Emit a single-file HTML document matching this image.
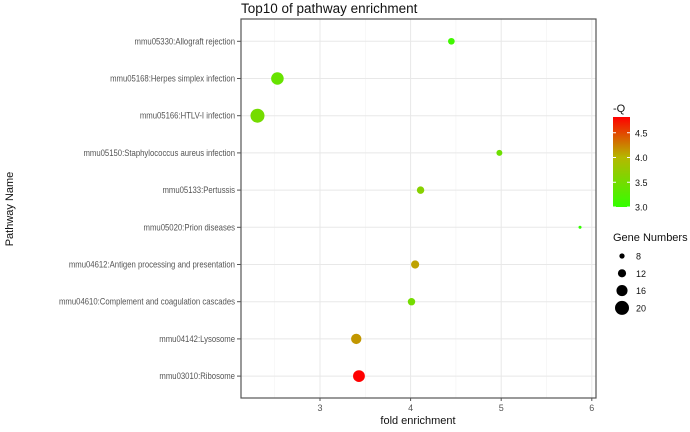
<!DOCTYPE html>
<html><head><meta charset="utf-8"><style>
body{margin:0;background:#fff;font-family:"Liberation Sans",sans-serif}
svg text{font-family:"Liberation Sans",sans-serif}
</style></head><body>
<svg id="chart" width="690" height="427" xmlns="http://www.w3.org/2000/svg">
<defs><linearGradient id="cg" x1="0" y1="1" x2="0" y2="0">
<stop offset="0" stop-color="#33ff00"/><stop offset="0.55" stop-color="#b5b800"/><stop offset="1" stop-color="#ff0000"/></linearGradient></defs>
<text x="241" y="13" font-size="13.5" fill="#111">Top10 of pathway enrichment</text>
<g id="grid"></g><g id="yax"></g><g id="xax"></g><g id="pts"></g>
<rect x="241" y="19" width="355" height="379" fill="none" stroke="#555" stroke-width="1.2"/>
<text x="418" y="424" font-size="11" text-anchor="middle" fill="#111">fold enrichment</text>
<text transform="translate(13,209) rotate(-90)" font-size="11" text-anchor="middle" fill="#111">Pathway Name</text>
<g>
<text x="613" y="112" font-size="11" fill="#111">-Q</text>
<rect x="613" y="117" width="17" height="90" fill="url(#cg)"/>
<g id="cl"></g></g>
<g>
<text x="613" y="241" font-size="11" fill="#111">Gene Numbers</text>
<g id="sl"></g></g>
</svg>
<script>
const categories=["mmu05330:Allograft rejection","mmu05168:Herpes simplex infection","mmu05166:HTLV-I infection","mmu05150:Staphylococcus aureus infection","mmu05133:Pertussis","mmu05020:Prion diseases","mmu04612:Antigen processing and presentation","mmu04610:Complement and coagulation cascades","mmu04142:Lysosome","mmu03010:Ribosome"];
const foldEnrichment=[4.45,2.53,2.31,4.98,4.11,5.87,4.05,4.01,3.40,3.43];
const negQ=[3.1,3.4,3.5,3.45,3.65,3.0,4.1,3.5,4.15,4.85];
const geneNumbers=[10,18,20,9,11,5,12,11,15,17];
const xTicks=[3,4,5,6];
const xMinor=[2.5,3.5,4.5,5.5];
const qTicks=[3.0,3.5,4.0,4.5];
const sizeTicks=[8,12,16,20];
const NS="http://www.w3.org/2000/svg";
const X=v=>320+(v-3)*90.6;
const Y=i=>41.3+i*37.2;
const R=n=>Math.max(1.3,-0.3+0.365*n);
const QY=q=>207-(q-3)*49.5;
function col(q){let t=Math.min(1,Math.max(0,(q-3)/1.82));
 const a=[[0,[0x33,0xff,0]],[0.55,[0xb5,0xb8,0]],[1,[0xff,0,0]]];
 let i=t<=0.55?0:1;const [t0,c0]=a[i],[t1,c1]=a[i+1];const u=(t-t0)/(t1-t0);
 return `rgb(${c0.map((c,k)=>Math.round(c+(c1[k]-c)*u)).join(',')})`;}
function mk(tag,at,parent,txt){const e=document.createElementNS(NS,tag);for(const k in at)e.setAttribute(k,at[k]);if(txt!==undefined)e.textContent=txt;document.getElementById(parent).appendChild(e);return e;}
xMinor.forEach(v=>{const e=mk('line',{x1:X(v),x2:X(v),y1:19,y2:398,stroke:'#f2f2f2','stroke-width':0.6},'grid');

});
xTicks.forEach(v=>{const e=mk('line',{x1:X(v),x2:X(v),y1:19,y2:398,stroke:'#e8e8e8','stroke-width':1},'grid');


const t=mk('line',{x1:X(v),x2:X(v),y1:398,y2:401,stroke:'#555'},'xax');


const l=mk('text',{x:X(v),y:411,'font-size':9,'text-anchor':'middle',fill:'#555'},'xax',String(v));

});
categories.forEach((c,i)=>{const g=mk('line',{x1:241,x2:596,y1:Y(i),y2:Y(i),stroke:'#e8e8e8'},'grid');


const t=mk('line',{x1:237,x2:241,y1:Y(i),y2:Y(i),stroke:'#555'},'yax');


const l=mk('text',{x:235,y:Y(i)+3,'font-size':8.8,'text-anchor':'end',fill:'#555','transform':`translate(235,0) scale(0.88,1) translate(-235,0)`},'yax',c);


const p=mk('circle',{cx:X(foldEnrichment[i]),cy:Y(i),r:R(geneNumbers[i]),fill:col(negQ[i])},'pts');

});
qTicks.forEach(q=>{const a=mk('line',{x1:613,x2:616,y1:QY(q),y2:QY(q),stroke:'#fff'},'cl');


const b=mk('line',{x1:627,x2:630,y1:QY(q),y2:QY(q),stroke:'#fff'},'cl');


const l=mk('text',{x:635,y:QY(q)+3.5,'font-size':9,fill:'#111'},'cl',q.toFixed(1));

});
sizeTicks.forEach((n,i)=>{const cy=256+i*17.3;
const c=mk('circle',{cx:622,cy:cy,r:R(n),fill:'#000'},'sl');


const l=mk('text',{x:636,y:cy+3.5,'font-size':9,fill:'#111'},'sl',String(n));

});
</script>
</body></html>
